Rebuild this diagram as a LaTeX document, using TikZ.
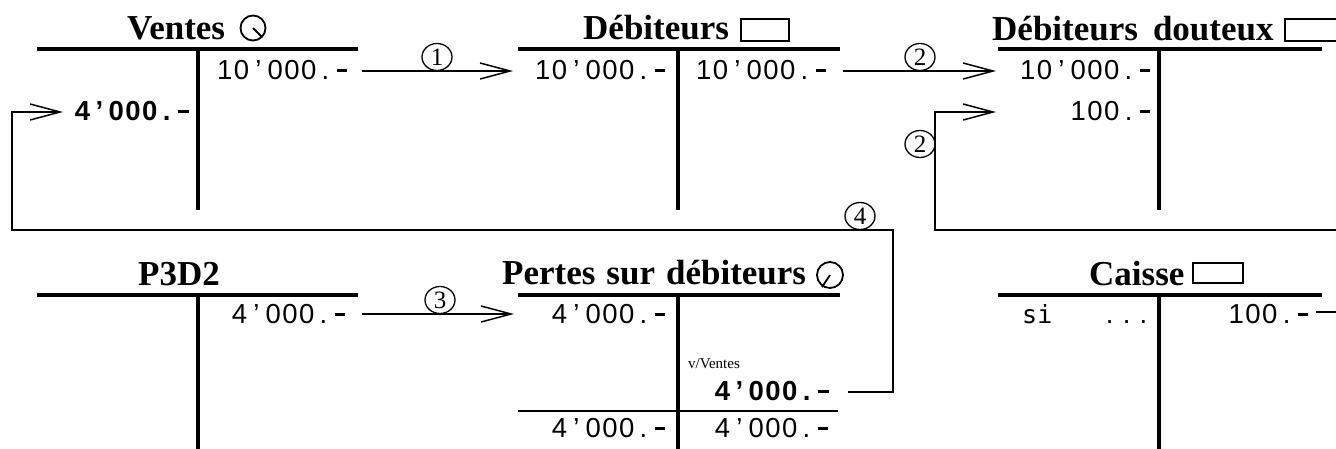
\documentclass[tikz,border=0pt]{standalone}
\usepackage{fontspec}
\setmainfont{Liberation Serif}
\newfontfamily\numf{Liberation Sans}
\newfontfamily\monof{DejaVu Sans Mono}
\usetikzlibrary{arrows.meta,shapes.geometric}
\newcommand\mch[1]{\makebox[16.8pt][c]{#1}}
\newcommand\dsh{\rule[7.5pt]{10pt}{2.4pt}}
\newcommand\bdsh{\rule[7.3pt]{11pt}{3.2pt}}
\def\mono#1{\monoA#1\relax}
\def\monoA#1{\ifx\relax#1\else\mch{#1}\expandafter\monoA\fi}
\tikzset{
  amt/.style={font=\numf\fontsize{27.5}{27.5}\selectfont, inner sep=0pt, anchor=base east},
  bamt/.style={font=\numf\bfseries\fontsize{27.5}{27.5}\selectfont, inner sep=0pt, anchor=base east},
  acctitle/.style={font=\bfseries\fontsize{35}{35}\selectfont, inner sep=0pt, anchor=base west},
  tline/.style={line width=3.5pt},
  thinline/.style={line width=1.8pt},
  icon/.style={line width=1.8pt},
  conn/.style={line width=1.5pt, line join=miter, -{Straight Barb[length=30pt,width=16pt]}},
  num/.style={ellipse, draw, line width=1.3pt, minimum width=30pt, minimum height=27pt, inner sep=0pt, font=\fontsize{25}{25}\selectfont},
}
\begin{document}
\begin{tikzpicture}[x=1pt,y=-1pt]
\clip (0,0) rectangle (1336,448);
\fill[white] (0,0) rectangle (1336,448);

% ---- Ventes
\node[acctitle] (tV) at (127,39) {Ventes};
\draw[icon] (253,28) circle (12.5);
\draw[icon] (253,28) -- (262,37);
\draw[tline] (37,49) -- (358,49);
\draw[tline] (198,49) -- (198,210);
\node[amt] (v1) at (351,79) {\mono{10’000.\dsh}};
\node[bamt] (v2) at (192,120) {\mono{4’000.\bdsh}};

% ---- Debiteurs
\node[acctitle] (tD) at (583,39) {Débiteurs};
\draw[icon] (741,19) rectangle (789,41);
\draw[tline] (518,49) -- (840,49);
\draw[tline] (678,49) -- (678,210);
\node[amt] (d1) at (669,79) {\mono{10’000.\dsh}};
\node[amt] (d2) at (830,79) {\mono{10’000.\dsh}};

% ---- Debiteurs douteux
\node[acctitle] (tDD) at (992,40) {Débiteurs\hspace{15pt}douteux};
\draw[icon] (1285,19) rectangle (1345,41);
\draw[tline] (998,49) -- (1322,49);
\draw[tline] (1159,49) -- (1159,210);
\node[amt] (dd1) at (1154,79) {\mono{10’000.\dsh}};
\node[amt] (dd2) at (1154,120) {\mono{100.\dsh}};

% ---- P3D2
\node[acctitle] (tP) at (138,285) {P3D2};
\draw[tline] (37,295) -- (358,295);
\draw[tline] (198,295) -- (198,452);
\node[amt] (p1) at (349,323) {\mono{4’000.\dsh}};

% ---- Pertes sur debiteurs
\node[acctitle] (tPe) at (502,284) {Pertes\hspace{11pt}sur\hspace{11pt}débiteurs};
\draw[icon] (830,275) circle (13);
\draw[icon] (830,275) -- (822,287);
\draw[tline] (518,295) -- (840,295);
\draw[tline] (678,295) -- (678,452);
\node[amt] (pe1) at (669,323) {\mono{4’000.\dsh}};
\node[inner sep=0pt, anchor=base west, font=\fontsize{15}{15}\selectfont] (vv) at (688,368) {v/Ventes};
\node[bamt] (pe2) at (832,400) {\mono{4’000.\bdsh}};
\draw[thinline] (518,411) -- (838,411);
\node[amt] (pe3) at (669,437) {\mono{4’000.\dsh}};
\node[amt] (pe4) at (832,437) {\mono{4’000.\dsh}};

% ---- Caisse
\node[acctitle] (tC) at (1089,285) {Caisse};
\draw[icon] (1193,263) rectangle (1243,283);
\draw[tline] (998,295) -- (1322,295);
\draw[tline] (1159,295) -- (1159,452);
\node[inner sep=0pt, anchor=base west, font=\monof\fontsize{25}{25}\selectfont] (si) at (1022,323) {si};
\node[amt] (dots) at (1152,323) {\mono{...}};
\node[amt] (c1) at (1312,323) {\mono{100.\dsh}};

% ---- connectors
\coordinate (a1s) at (362,71);  \coordinate (a1e) at (513,71);
\coordinate (a2s) at (843,71);  \coordinate (a2e) at (996,71);
\coordinate (a3s) at (362,314); \coordinate (a3e) at (514,314);
\coordinate (b2s) at (1316,312); \coordinate (b2a) at (1345,312);
\coordinate (b2b) at (1345,230); \coordinate (b2c) at (935,230);
\coordinate (b2d) at (935,112); \coordinate (b2e) at (996,112);
\coordinate (b4s) at (848,392); \coordinate (b4a) at (893,392);
\coordinate (b4b) at (893,230); \coordinate (b4c) at (12,230);
\coordinate (b4d) at (12,112);  \coordinate (b4e) at (63,112);

\draw[conn] (a1s) -- (a1e);
\draw[conn] (a2s) -- (a2e);
\draw[conn] (a3s) -- (a3e);
\draw[conn] (b2s) -- (b2a) -- (b2b) -- (b2c) -- (b2d) -- (b2e);
\draw[conn] (b4s) -- (b4a) -- (b4b) -- (b4c) -- (b4d) -- (b4e);

\node[num] (n1) at (437,57) {1};
\node[num] (n2) at (920,57) {2};
\node[num] (n2b) at (920,144) {2};
\node[num] (n3) at (440,300) {3};
\node[num] (n4) at (860,216) {4};
\end{tikzpicture}
\end{document}
